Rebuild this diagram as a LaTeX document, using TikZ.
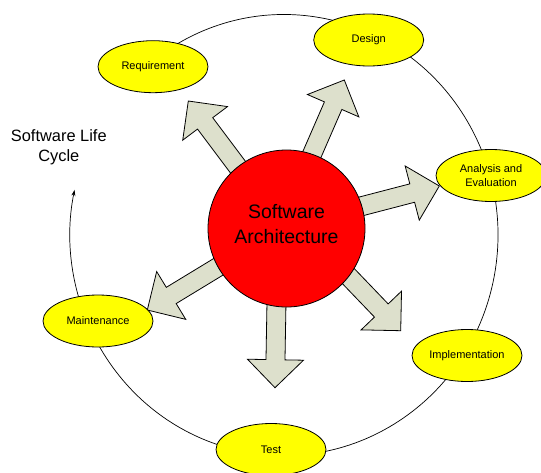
\documentclass[tikz,border=0pt]{standalone}
\usepackage{fontspec}
\setmainfont{Liberation Sans}
\usetikzlibrary{shapes.geometric,arrows.meta}
\definecolor{stagefill}{HTML}{FFFF00}
\definecolor{corefill}{HTML}{FF0000}
\definecolor{arrowfill}{HTML}{DDE0CC}
\tikzset{
  stage/.style={ellipse, draw=black, line width=0.8pt, fill=stagefill,
    minimum width=110pt, minimum height=52pt, inner sep=0pt,
    font=\fontsize{11}{14}\selectfont, align=center},
  core/.style={circle, draw=black, line width=0.8pt, fill=corefill,
    minimum size=157pt, inner sep=0pt},
  cycleline/.style={line width=0.7pt, -{Stealth[length=6pt,width=4pt]}},
  arrowbody/.style={draw=black, line width=0.8pt, fill=arrowfill, line join=miter},
  % broad block arrow, tip at the origin, pointing along +x
  blockarrow/.pic={
    \draw[arrowbody] (0,0) -- (-28,28) -- (-28,9.5) -- (-150,9.5)
      -- (-150,-9.5) -- (-28,-9.5) -- (-28,-28) -- cycle;
  }
}
\begin{document}
\begin{tikzpicture}[x=1pt,y=-1pt]
\useasboundingbox[fill=white] (0,0) rectangle (541,472);

% life cycle ring
\coordinate (ring) at (284,235);
\draw[cycleline] (ring) ++(-121:214 and 220.5)
  arc[start angle=-121, end angle=191.8, x radius=214, y radius=220.5];

% block arrows leaving the architecture
\pic[rotate=126.9] at (188.3,101) {blockarrow};
\pic[rotate=66.5] at (344.3,80) {blockarrow};
\pic[rotate=14.6] at (439.3,186) {blockarrow};
\pic[rotate=-46.2] at (400.7,330.7) {blockarrow};
\pic[rotate=-91] at (275,387.7) {blockarrow};
\pic[rotate=211.3] at (147.3,310) {blockarrow};

% central element
\node[core] (arch) at (286.5,228.5) {};
\node[font=\fontsize{19.5}{25}\selectfont, align=center, inner sep=0pt]
  (archlabel) at (286.5,223.7) {Software\\Architecture};

% phases
\node[stage] (req) at (153,66.7) {Requirement};
\node[stage] (design) at (368.7,40) {Design};
\node[stage] (analysis) at (491,175.5) {Analysis and\\Evaluation};
\node[stage] (impl) at (467,355.5) {Implementation};
\node[stage] (test) at (271,449.5) {Test};
\node[stage] (maint) at (98,321) {Maintenance};

% title
\node[font=\fontsize{16.4}{19.8}\selectfont, align=center, inner sep=0pt]
  (title) at (58.8,147.4) {Software Life\\Cycle};
\end{tikzpicture}
\end{document}
